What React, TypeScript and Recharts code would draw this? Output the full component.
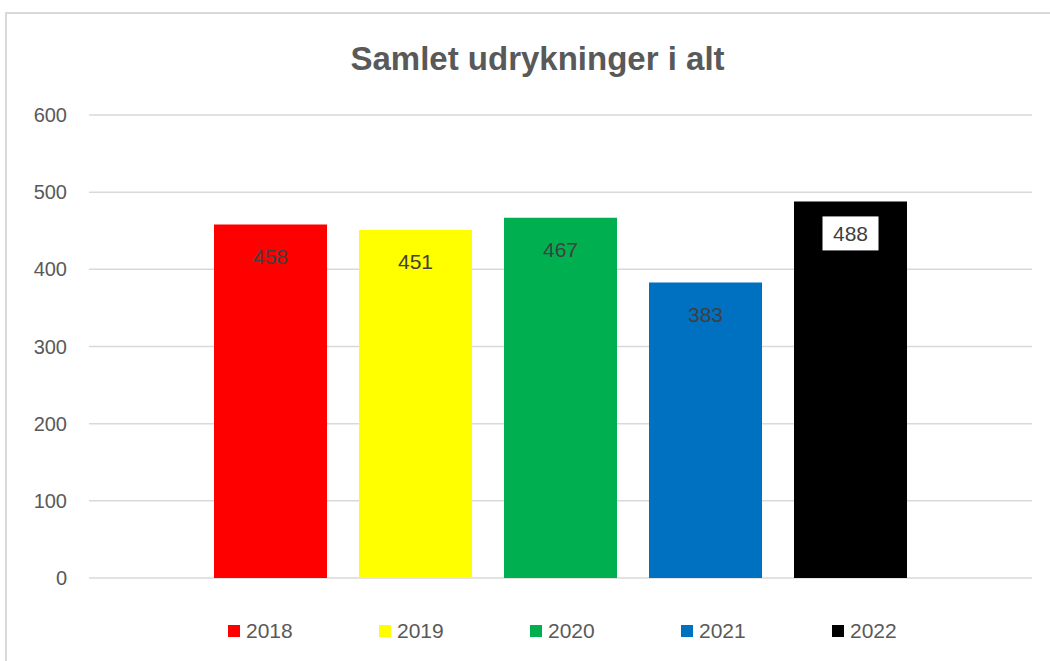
import { BarChart, Bar, XAxis, YAxis, CartesianGrid, Legend, LabelList } from "recharts";

const categories = ["Udrykninger"];
const years = ["2018", "2019", "2020", "2021", "2022"];
const values = [458, 451, 467, 383, 488];
const colors = ["#FF0000", "#FFFF00", "#00B050", "#0070C0", "#000000"];
const yTicks = [0, 100, 200, 300, 400, 500, 600];

const data = categories.map((name) => {
  const row: Record<string, string | number> = { name };
  years.forEach((y, i) => {
    row[y] = values[i];
  });
  return row;
});

const FONT = "'Liberation Sans', Arial, sans-serif";

const makeLabel = (boxed: boolean) => (props: any) => {
  const { x, y, width, value } = props;
  const cx = x + width / 2;
  const cy = y + 32;
  return (
    <g>
      {boxed && <rect x={cx - 28} y={cy - 17} width={56} height={34} fill="#fff" />}
      <text
        x={cx}
        y={cy}
        textAnchor="middle"
        dominantBaseline="central"
        fontSize={21}
        fontFamily={FONT}
        fill="#404040"
      >
        {value}
      </text>
    </g>
  );
};

const renderLegend = () => (
  <div style={{ display: "flex", paddingLeft: 228, height: 26, alignItems: "center" }}>
    {years.map((y, i) => (
      <div key={y} style={{ width: 151, display: "flex", alignItems: "center" }}>
        <span
          style={{
            display: "inline-block",
            width: 12,
            height: 12,
            background: colors[i],
            marginRight: 6,
          }}
        />
        <span style={{ fontSize: 21, color: "#595959", fontFamily: FONT }}>{y}</span>
      </div>
    ))}
  </div>
);

const App = () => {
  return (
    <div
      style={{
        position: "absolute",
        left: 0,
        top: 0,
        width: 1050,
        height: 661,
        overflow: "hidden",
        background: "#fff",
      }}
    >
      <div
        style={{
          position: "absolute",
          left: 5,
          top: 12,
          width: 1100,
          height: 700,
          border: "2px solid #d9d9d9",
        }}
      />
      <div
        style={{
          position: "absolute",
          left: 0,
          top: 37,
          width: 1075,
          textAlign: "center",
          fontFamily: FONT,
          fontWeight: "bold",
          fontSize: 33,
          lineHeight: "44px",
          color: "#595959",
        }}
      >
        Samlet udrykninger i alt
      </div>
      <div style={{ position: "absolute", left: 0, top: 0 }}>
        <BarChart
          width={1050}
          height={661}
          data={data}
          margin={{ top: 115, right: 18, bottom: 57, left: 0 }}
          barSize={113}
          barGap={32}
        >
          <CartesianGrid vertical={false} stroke="#d9d9d9" strokeWidth={1.5} />
          <XAxis dataKey="name" hide />
          <YAxis
            width={89}
            domain={[0, 600]}
            ticks={yTicks}
            axisLine={false}
            tickLine={false}
            tickSize={0}
            tickMargin={22}
            tick={{ fontSize: 20, fill: "#595959", fontFamily: FONT }}
          />
          <Legend
            content={renderLegend}
            verticalAlign="bottom"
            wrapperStyle={{ top: 618, left: 0, width: 1050 }}
          />
          {years.map((y, i) => (
            <Bar key={y} dataKey={y} fill={colors[i]} isAnimationActive={false}>
              <LabelList dataKey={y} content={makeLabel(i === 4)} />
            </Bar>
          ))}
        </BarChart>
      </div>
    </div>
  );
};

export default App;
